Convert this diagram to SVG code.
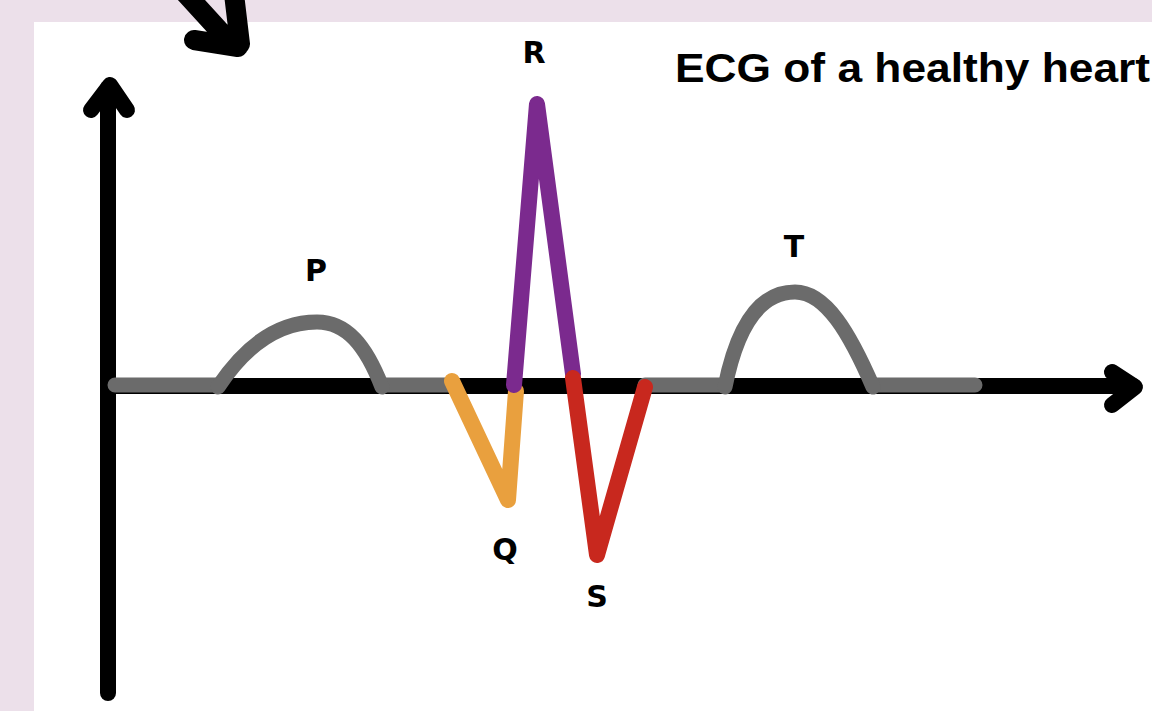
<svg xmlns="http://www.w3.org/2000/svg" width="1152" height="711" viewBox="0 0 1152 711">
  <style>
    .ax{fill:none;stroke:#000;stroke-width:16;stroke-linecap:round;stroke-linejoin:round}
    .base{fill:none;stroke:#6b6b6b;stroke-width:15;stroke-linecap:round;stroke-linejoin:round}
    .wave{fill:none;stroke-width:16;stroke-linecap:round;stroke-linejoin:round}
    .lbl{font-family:"DejaVu Sans",sans-serif;font-weight:bold;font-size:30px;fill:#000;text-anchor:middle}
    .title{font-family:"Liberation Sans",Arial,sans-serif;font-weight:bold;font-size:40px;fill:#000}
  </style>
  <rect x="0" y="0" width="1152" height="711" fill="#ECE0EA"/>
  <rect x="34" y="22" width="1118" height="689" fill="#ffffff"/>

  <g id="corner-arrow">
    <path class="ax" style="stroke-width:20" d="M186,-6 L228,40 M234,-6 L240,44 M194,40 L238,47"/>
  </g>

  <g id="axes">
    <path class="ax" d="M108,693 V88"/>
    <path class="ax" d="M91,110 L110,85 L127,110"/>
    <path class="ax" d="M108,386 H1133"/>
    <path class="ax" d="M1112,372 L1135,387 L1112,405"/>
  </g>

  <g id="connectors">
    <path class="base" d="M115,385 H218 M382,385 H450 M645,385 H722 M873,385 H975"/>
    <path id="p-wave" class="base" d="M218,387 C248,342 282,322 317,322 C347,322 366,346 382,387"/>
    <path id="t-wave" class="base" d="M725,387 C738,322 762,292 795,292 C826,292 850,334 873,387"/>
    <path id="q-wave" class="wave" stroke="#E9A03E" d="M452,381 L508,500 L516,391"/>
    <path id="r-wave" class="wave" stroke="#7B2A8E" d="M514,385 L537,104 L573,374"/>
    <path id="s-wave" class="wave" stroke="#C8281E" d="M573,378 L597,555 L645,387"/>
  </g>

  <g id="label-p"><text class="lbl" x="316" y="281">P</text></g>
  <g id="label-r"><text class="lbl" x="534" y="63">R</text></g>
  <g id="label-t"><text class="lbl" x="794" y="257">T</text></g>
  <g id="label-q"><text class="lbl" x="505" y="560">Q</text></g>
  <g id="label-s"><text class="lbl" x="597" y="607">S</text></g>

  <g id="title">
    <text class="title" x="675" y="82" textLength="475" lengthAdjust="spacingAndGlyphs">ECG of a healthy heart</text>
  </g>
</svg>
